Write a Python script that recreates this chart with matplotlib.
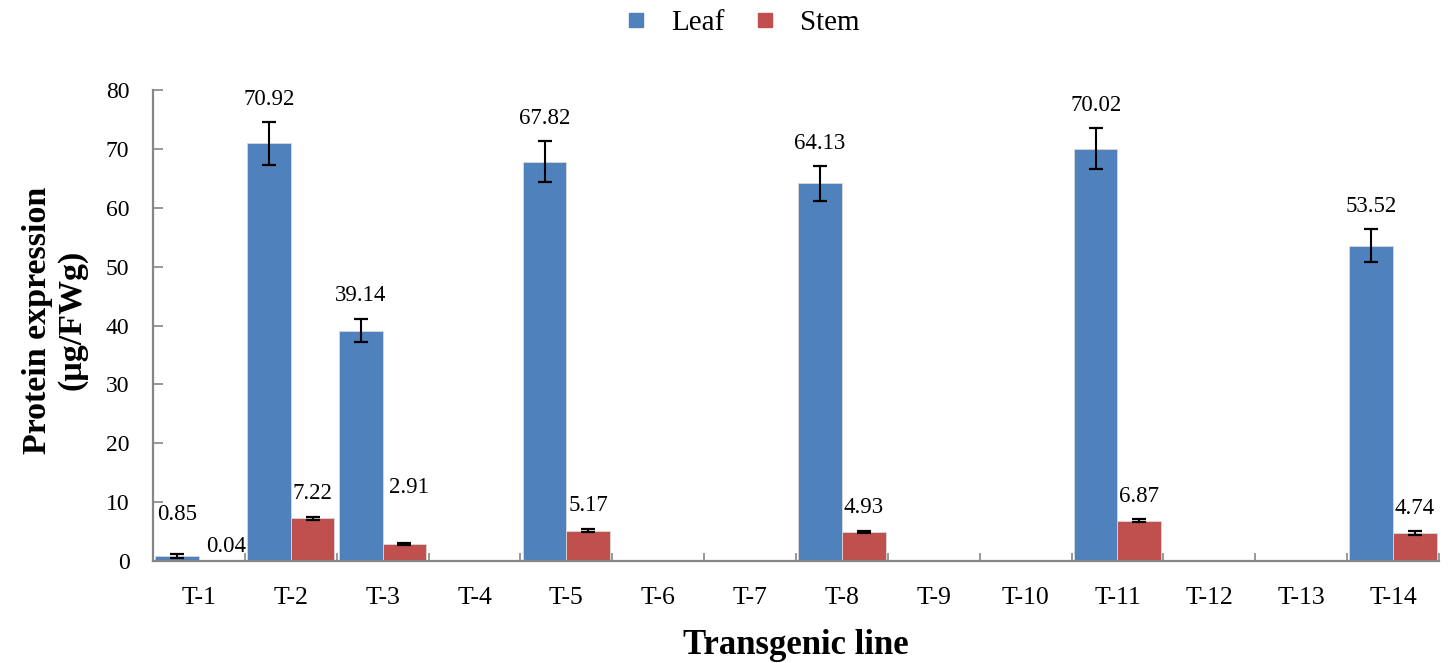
import matplotlib
matplotlib.use("Agg")
import matplotlib.pyplot as plt
import numpy as np
from matplotlib.lines import Line2D

lines = ["T-1", "T-2", "T-3", "T-4", "T-5", "T-6", "T-7", "T-8", "T-9", "T-10", "T-11", "T-12", "T-13", "T-14"]
leaf = [0.85, 70.92, 39.14, 0, 67.82, 0, 0, 64.13, 0, 0, 70.02, 0, 0, 53.52]
leaf_err = [0.3, 3.6, 2.0, 0, 3.45, 0, 0, 2.9, 0, 0, 3.5, 0, 0, 2.8]
stem = [0.04, 7.22, 2.91, 0, 5.17, 0, 0, 4.93, 0, 0, 6.87, 0, 0, 4.74]
stem_err = [0.0, 0.3, 0.2, 0, 0.3, 0, 0, 0.25, 0, 0, 0.25, 0, 0, 0.3]

plt.rcParams['font.family'] = ['Liberation Serif', 'DejaVu Serif']

blue = '#4F81BD'
red = '#C0504D'
grey = '#868686'

fig = plt.figure(figsize=(14.51, 6.63), dpi=100)
ax = fig.add_axes([153/1451, 1 - 561/663, (1439-153)/1451, (561-90)/663])

x = np.arange(len(lines))
w = 0.475
ax.bar(x - w/2, leaf, width=w, color=blue, edgecolor='#D9D9D9', linewidth=0.6, zorder=2)
ax.bar(x + w/2, stem, width=w, color=red, edgecolor='#D9D9D9', linewidth=0.6, zorder=2)

ebkw = dict(fmt='none', ecolor='black', elinewidth=1.5, capsize=5, capthick=1.6, zorder=3)
for xi, v, e in zip(x - w/2, leaf, leaf_err):
    if v > 0.5:
        ax.errorbar(xi, v, yerr=e, **ebkw)
for xi, v, e in zip(x + w/2, stem, stem_err):
    if v > 0.5:
        ax.errorbar(xi, v, yerr=e, **ebkw)

# label nudges (points) where the original chart moved a label to avoid overlap
leaf_nudge = {0: (0, 21)}
stem_nudge = {0: (4, 3), 2: (3, 32)}

for i, (xi, v, e) in enumerate(zip(x - w/2, leaf, leaf_err)):
    if v > 0:
        dx, dy = leaf_nudge.get(i, (0, 9))
        ax.annotate(f"{v:.2f}", (xi, v + e), xytext=(dx, dy), textcoords='offset points',
                    ha='center', va='bottom', fontsize=16.5)
for i, (xi, v, e) in enumerate(zip(x + w/2, stem, stem_err)):
    if v > 0:
        dx, dy = stem_nudge.get(i, (0, 9))
        ax.annotate(f"{v:.2f}", (xi, v + e), xytext=(dx, dy), textcoords='offset points',
                    ha='center', va='bottom', fontsize=16.5)

ax.set_xlim(-0.5, len(lines) - 0.5)
ax.set_ylim(0, 80)
ax.set_yticks(np.arange(0, 81, 10))
ax.set_xticks(x)
ax.set_xticklabels(lines)
ax.set_xticks(np.arange(-0.5, len(lines), 1), minor=True)
ax.tick_params(axis='x', which='major', length=0, pad=19, labelsize=18.5)
ax.tick_params(axis='x', which='minor', length=6, direction='in', color=grey, width=1.2)
ax.tick_params(axis='y', length=7, direction='in', color=grey, width=1.2, labelsize=17, pad=17)
for s in ['top', 'right']:
    ax.spines[s].set_visible(False)
for s in ['left', 'bottom']:
    ax.spines[s].set_color(grey)
    ax.spines[s].set_linewidth(1.6)

fig.text(55/1451, 1 - 320/663, "Protein expression\n(\u03bcg/FWg)", rotation=90, ha='center', va='center',
         fontsize=24.5, fontweight='bold', linespacing=1.15)
fig.text(796/1451, 1 - 646/663, "Transgenic line", ha='center', va='center', fontsize=25, fontweight='bold')

handles = [Line2D([], [], marker='s', linestyle='none', markersize=10, markerfacecolor=blue, markeredgecolor=blue),
           Line2D([], [], marker='s', linestyle='none', markersize=10, markerfacecolor=red, markeredgecolor=red)]
fig.legend(handles, ['Leaf', 'Stem'], loc='center', bbox_to_anchor=(741/1451, 1 - 23/663), ncol=2,
           frameon=False, fontsize=21, handletextpad=0.75, columnspacing=0.95, handlelength=0.9,
           borderpad=0.2)

fig.savefig('out.png', dpi=100)
